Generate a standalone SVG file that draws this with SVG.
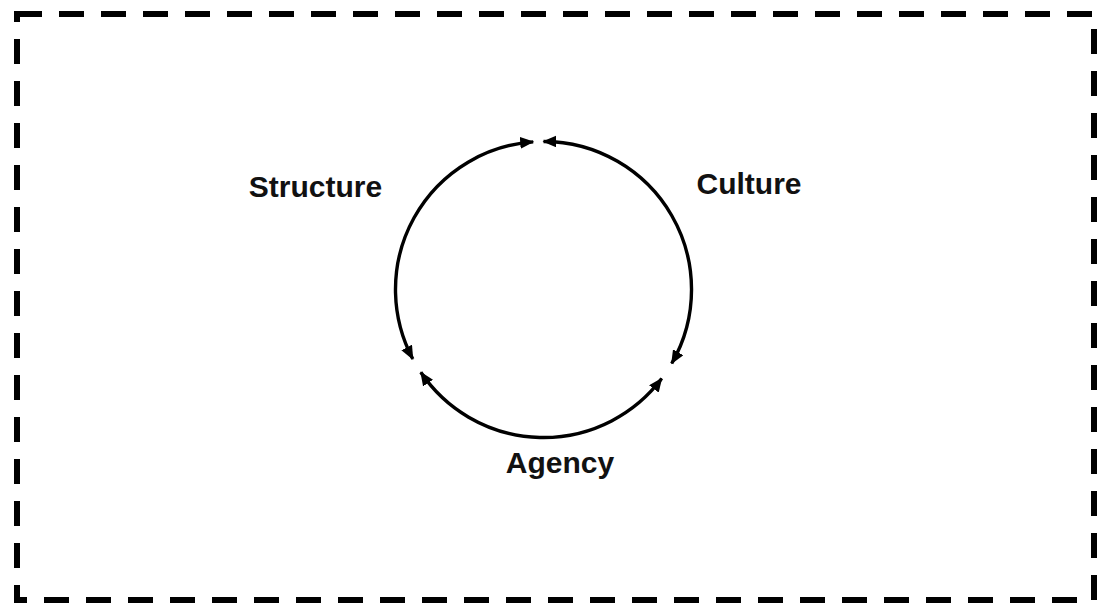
<svg xmlns="http://www.w3.org/2000/svg" width="1103" height="605" viewBox="0 0 1103 605">
<style>
.frame{fill:none;stroke:#000;stroke-width:6;stroke-dasharray:25 17}
.arc{fill:none;stroke:#000;stroke-width:3.4;marker-start:url(#ah);marker-end:url(#ah)}
.lbl{font-family:"Liberation Sans",Arial,sans-serif;font-weight:bold;font-size:30px;fill:#111;text-anchor:middle}
</style>
<defs>
<marker id="ah" viewBox="0 0 14 12" refX="13" refY="6" markerWidth="14" markerHeight="12" markerUnits="userSpaceOnUse" orient="auto-start-reverse">
<path d="M0,0 L14,6 L0,12 Z" fill="#000"/>
</marker>
</defs>
<rect class="frame" x="17" y="14" width="1077" height="586"/>
<g id="connectors">
<path class="arc" d="M412.8,359 A148,148 0 0 1 533.2,141.9"/>
<path class="arc" d="M543.5,141.5 A148,148 0 0 1 671.7,363.5"/>
<path class="arc" d="M661.7,378.6 A148,148 0 0 1 420.8,372.3"/>
</g>
<g id="structure"><text class="lbl" x="315.5" y="197">Structure</text></g>
<g id="culture"><text class="lbl" x="749" y="194">Culture</text></g>
<g id="agency"><text class="lbl" x="560" y="473">Agency</text></g>
</svg>
